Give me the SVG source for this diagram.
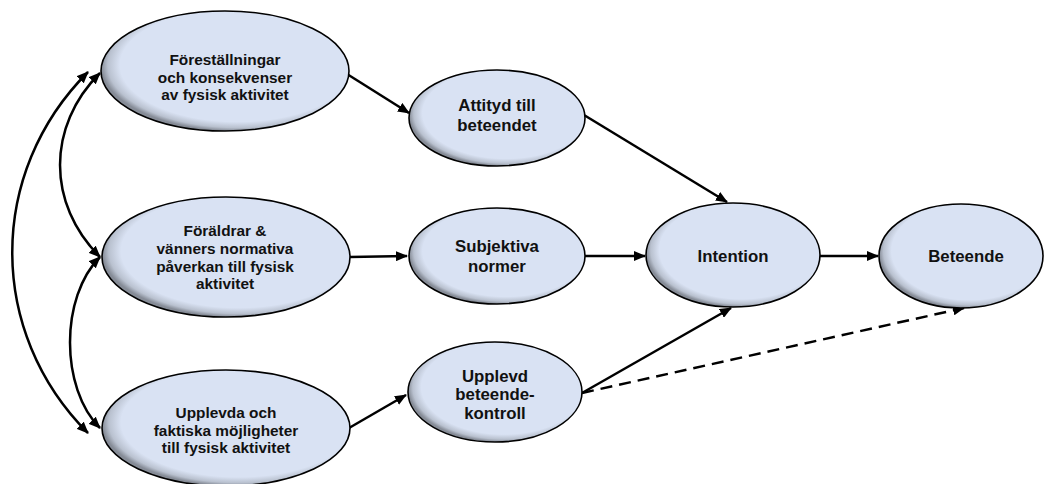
<svg xmlns="http://www.w3.org/2000/svg" width="1044" height="484" viewBox="0 0 1044 484">
<defs>
<radialGradient id="shade" cx="0.55" cy="0.45" r="0.55">
<stop offset="0" stop-color="#d9e2f3"/>
<stop offset="0.86" stop-color="#d9e2f3"/>
<stop offset="0.95" stop-color="#b9c1cf"/>
<stop offset="1" stop-color="#868c97"/>
</radialGradient>
<marker id="ah" viewBox="0 0 12 10" refX="11" refY="5" markerWidth="12" markerHeight="10" markerUnits="userSpaceOnUse" orient="auto-start-reverse">
<path d="M0,0 L12,5 L0,10 z" fill="#000"/>
</marker>
</defs>
<style>
.node ellipse{fill:url(#shade);stroke:#000;stroke-width:1.6}
.node text{font-family:"Liberation Sans",Arial,sans-serif;font-weight:bold;fill:#111;text-anchor:middle}
.l text{font-size:15.4px}
.m text{font-size:16.8px}
.conn path{fill:none;stroke:#000;stroke-width:2.5;marker-end:url(#ah)}
.conn .bi{marker-start:url(#ah)}
.conn .dash{stroke-dasharray:12 7}
</style>
<rect width="1044" height="484" fill="#fff"/>
<g id="connectors" class="conn">
<path class="bi" d="M88,72 C-13,173 -13,332 88,433"/>
<path class="bi" d="M100,73 C46.7,126 46.7,204 100,257"/>
<path class="bi" d="M100,257 C60,297 60,388 100,428"/>
<path d="M347,74 L409,113"/>
<path d="M584,115 L727,202"/>
<path d="M350,257 L407,256"/>
<path d="M585,256 L645,256"/>
<path d="M820,256 L878,256"/>
<path d="M349,428 L406,395"/>
<path d="M582,393 L731,308"/>
<path class="dash" d="M582,393 L964,308"/>
</g>
<g id="n-forestallningar" class="node l">
<ellipse cx="225" cy="71" rx="124" ry="60"/>
<text x="225" y="65">Föreställningar</text>
<text x="225" y="82.5">och konsekvenser</text>
<text x="225" y="100">av fysisk aktivitet</text>
</g>
<g id="n-foraldrar" class="node l">
<ellipse cx="226" cy="257" rx="124" ry="60"/>
<text x="225" y="236">Föräldrar &amp;</text>
<text x="225" y="254">vänners normativa</text>
<text x="225" y="272">påverkan till fysisk</text>
<text x="225" y="289">aktivitet</text>
</g>
<g id="n-upplevda" class="node l">
<ellipse cx="226" cy="428" rx="124" ry="58"/>
<text x="226" y="418">Upplevda och</text>
<text x="226" y="436">faktiska möjligheter</text>
<text x="226" y="453">till fysisk aktivitet</text>
</g>
<g id="n-attityd" class="node m">
<ellipse cx="497" cy="118" rx="88" ry="48"/>
<text x="497" y="111">Attityd till</text>
<text x="497" y="131">beteendet</text>
</g>
<g id="n-subjektiva" class="node m">
<ellipse cx="497" cy="256" rx="88" ry="48"/>
<text x="497" y="252">Subjektiva</text>
<text x="497" y="272">normer</text>
</g>
<g id="n-upplevd" class="node m">
<ellipse cx="495" cy="392" rx="87" ry="50"/>
<text x="495" y="382">Upplevd</text>
<text x="495" y="400">beteende-</text>
<text x="495" y="419">kontroll</text>
</g>
<g id="n-intention" class="node m">
<ellipse cx="733" cy="255" rx="87" ry="52"/>
<text x="733" y="262">Intention</text>
</g>
<g id="n-beteende" class="node m">
<ellipse cx="961" cy="256" rx="82" ry="52"/>
<text x="966" y="262">Beteende</text>
</g>
</svg>
